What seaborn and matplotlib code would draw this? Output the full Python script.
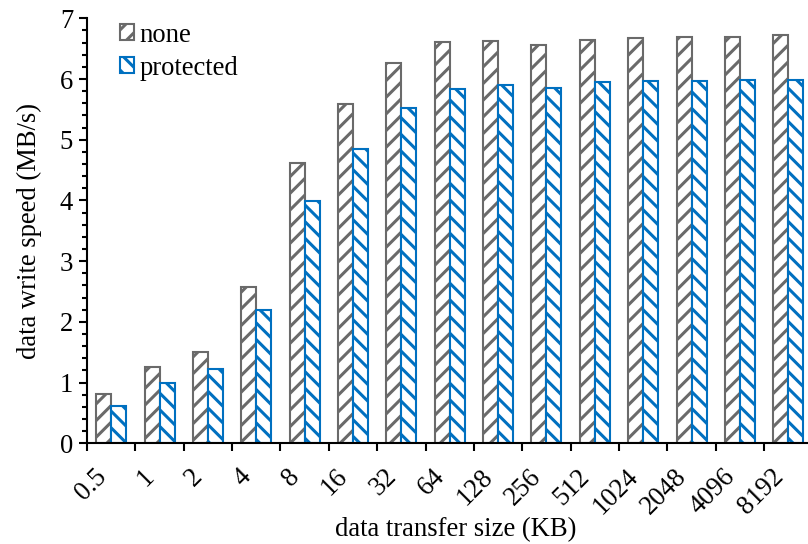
import numpy as np
import pandas as pd
import matplotlib
matplotlib.use("Agg")
import matplotlib.pyplot as plt
from matplotlib.patches import Patch
from matplotlib.ticker import MultipleLocator
from matplotlib.transforms import ScaledTranslation
import seaborn as sns

# Write throughput per transfer size, with and without protection
sizes = ["0.5", "1", "2", "4", "8", "16", "32", "64", "128", "256",
         "512", "1024", "2048", "4096", "8192"]
none_speed = [0.81, 1.26, 1.51, 2.57, 4.61, 5.59, 6.26, 6.61, 6.62, 6.56,
              6.65, 6.67, 6.69, 6.70, 6.72]
protected_speed = [0.61, 1.00, 1.22, 2.20, 3.99, 4.85, 5.52, 5.83, 5.90, 5.85,
                   5.95, 5.96, 5.96, 5.98, 5.99]
modes = ["none", "protected"]

df = pd.DataFrame({
    "size": sizes * 2,
    "speed": none_speed + protected_speed,
    "mode": [modes[0]] * len(sizes) + [modes[1]] * len(sizes),
})

edge_colors = {"none": "#6a6a6a", "protected": "#0070c0"}
hatch_colors = {"none": "#858585", "protected": "#0070c0"}
hatches = {"none": "//", "protected": "\\\\"}

sns.set_theme(style="ticks")
plt.rcParams["font.family"] = ["Liberation Serif", "DejaVu Serif"]
plt.rcParams["hatch.linewidth"] = 2.2
plt.rcParams["axes.edgecolor"] = "black"
plt.rcParams["xtick.color"] = "black"
plt.rcParams["ytick.color"] = "black"
plt.rcParams["text.color"] = "black"
plt.rcParams["axes.labelcolor"] = "black"

FS = 19.2

fig = plt.figure(figsize=(8.08, 5.44), dpi=100)
ax = fig.add_axes([87 / 808, 100.7 / 544, 725.5 / 808, 425 / 544])

sns.barplot(data=df, x="size", y="speed", hue="mode", order=sizes,
            hue_order=modes, palette=["white", "white"], width=0.62,
            saturation=1, errorbar=None, legend=False, linewidth=1.5, ax=ax)


def style_patch(p, m):
    p.set_facecolor("white")
    p.set_edgecolor(edge_colors[m])
    if hasattr(p, "set_hatchcolor"):
        p.set_hatchcolor(hatch_colors[m])
    p.set_hatch(hatches[m])
    p.set_linewidth(1.5)


for container, m in zip(ax.containers, modes):
    for bar in container:
        style_patch(bar, m)

ax.set_xlim(-0.5, len(sizes) - 0.5)
ax.set_ylim(0, 7)
ax.yaxis.set_major_locator(MultipleLocator(1))
ax.yaxis.set_minor_locator(MultipleLocator(0.2))

# group separators as major ticks, category names on unmarked minor ticks
ax.set_xticks(np.arange(-0.5, len(sizes), 1.0))
ax.set_xticklabels([])
ax.set_xticks(np.arange(len(sizes)), labels=sizes, minor=True)
shift = ScaledTranslation(4 / 100, 0, fig.dpi_scale_trans)
for lbl in ax.get_xticklabels(minor=True):
    lbl.set_rotation(45)
    lbl.set_ha("right")
    lbl.set_fontsize(FS)
    lbl.set_transform(lbl.get_transform() + shift)

ax.tick_params(axis="x", which="major", length=6, width=1.5, direction="out")
ax.tick_params(axis="x", which="minor", length=0, pad=15)
ax.tick_params(axis="y", which="major", length=6, width=1.5, direction="out",
               labelsize=FS, pad=4)
ax.tick_params(axis="y", which="minor", length=3.5, width=1.5, direction="out")

for side in ("left", "bottom"):
    ax.spines[side].set_linewidth(1.5)
sns.despine(ax=ax)

ax.set_xlabel("data transfer size (KB)", fontsize=FS)
ax.xaxis.set_label_coords(0.5086, -0.2330)
ax.xaxis.label.set_va("bottom")
ax.set_ylabel("data write speed (MB/s)", fontsize=FS, labelpad=13)

handles = []
for m in modes:
    h = Patch(facecolor="white", edgecolor=edge_colors[m], hatch=hatches[m],
              linewidth=1.5, label=m)
    if hasattr(h, "set_hatchcolor"):
        h.set_hatchcolor(hatch_colors[m])
    handles.append(h)
ax.legend(handles=handles, loc="upper left", bbox_to_anchor=(0.045, 0.99),
          frameon=False, fontsize=FS, handlelength=0.55, handleheight=0.55,
          handletextpad=0.2, labelspacing=0.3, borderpad=0, borderaxespad=0)

fig.savefig("out.png", dpi=100)
